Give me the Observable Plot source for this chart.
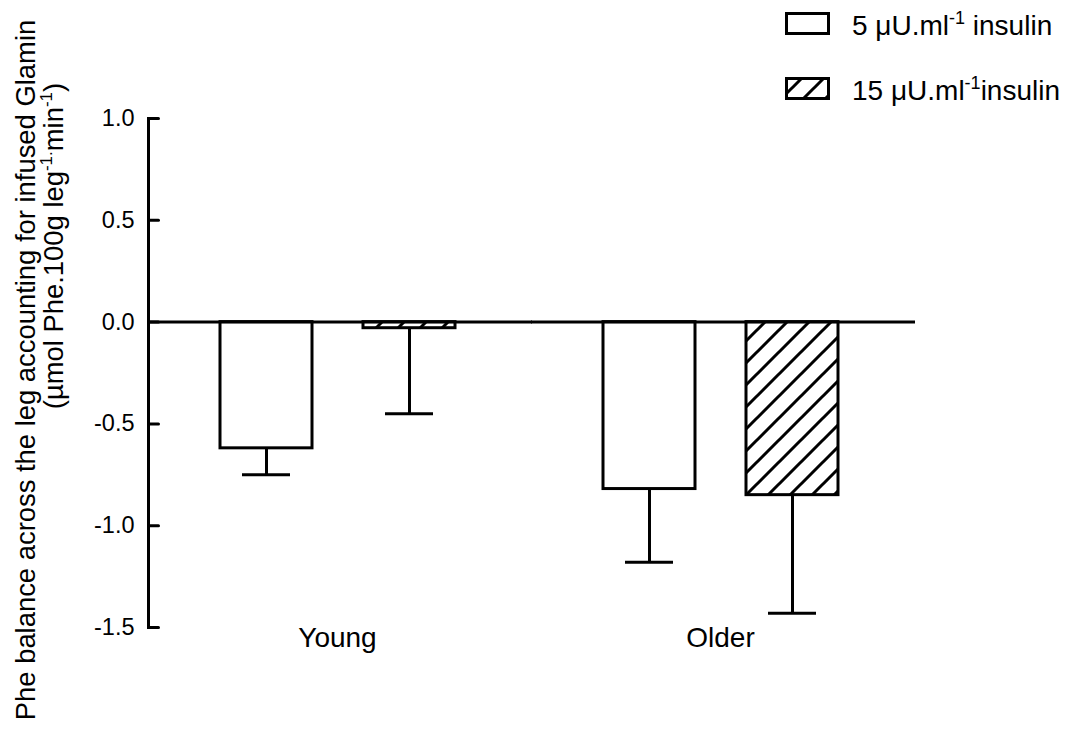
<!DOCTYPE html>
<html>
<head>
<meta charset="utf-8">
<script src="https://cdn.jsdelivr.net/npm/d3@7"></script>
<script src="https://cdn.jsdelivr.net/npm/@observablehq/plot@0.6"></script>
<style>
  body { margin: 0; background: #fff; }
  svg { display: block; }
</style>
</head>
<body>
<div id="chart"></div>
<script>
// ---- data ----
const groups = ["Young", "Older"];
const doses = ["5", "15"];               // µU/ml insulin
const mean5  = [-0.62, -0.82];           // per group
const mean15 = [-0.03, -0.85];
const sem5   = [0.13, 0.36];
const sem15  = [0.42, 0.58];
const yTicks = [-1.5, -1.0, -0.5, 0.0, 0.5, 1.0];
const yDomain = [-1.5, 1.0];

const data = groups.flatMap((g, i) => [
  {group: g, dose: doses[0], mean: mean5[i],  sem: sem5[i]},
  {group: g, dose: doses[1], mean: mean15[i], sem: sem15[i]}
]);

const FONT = "'Liberation Sans', Arial, Helvetica, sans-serif";
const tickShape = {draw(context, l) { context.moveTo(0, 0); context.lineTo(0, -l); }};

const plot = Plot.plot({
  width: 1070,
  height: 731,
  marginLeft: 148,
  marginRight: 155,
  marginTop: 118,
  marginBottom: 104,
  style: {fontFamily: FONT, background: "white", color: "black"},
  fx: {domain: groups, paddingInner: 0.013, paddingOuter: 0.0078, align: 0, label: null},
  x: {domain: doses, paddingInner: 0.359, paddingOuter: 0.4967, align: 0.5, axis: null},
  y: {domain: yDomain, label: null},
  marks: [
    Plot.barY(data.filter(d => d.dose === "5"), {
      fx: "group", x: "dose", y1: 0, y2: "mean", inset: 0,
      fill: "white", stroke: "black", strokeWidth: 3
    }),
    Plot.barY(data.filter(d => d.dose === "15"), {
      fx: "group", x: "dose", y1: 0, y2: "mean", inset: 0,
      fill: "url(#hatch)", stroke: "black", strokeWidth: 3
    }),
    Plot.ruleX(data, {
      fx: "group", x: "dose", y1: "mean", y2: d => d.mean - d.sem,
      stroke: "black", strokeWidth: 3
    }),
    Plot.tickY(data, {
      fx: "group", x: "dose", y: d => d.mean - d.sem, inset: 22,
      stroke: "black", strokeWidth: 3
    }),
    Plot.ruleY([0], {insetRight: -6, stroke: "black", strokeWidth: 3}),
    Plot.frame({anchor: "left", facetAnchor: "left", stroke: "black", strokeWidth: 3}),
    Plot.vector(yTicks, {
      y: d => d, frameAnchor: "left", facetAnchor: "left",
      rotate: 90, length: 10, anchor: "start", shape: tickShape,
      stroke: "black", strokeWidth: 3
    }),
    Plot.axisY({
      ticks: yTicks, tickSize: 0, tickPadding: 14, fontSize: 23.5,
      tickFormat: d => d.toFixed(1), label: null
    }),
    Plot.axisFx({anchor: "bottom", tickSize: 0, tickPadding: 0, fontSize: 28, label: null})
  ]
});

document.getElementById("chart").appendChild(plot);

// ---- hatch pattern, y title and legend ----
const svg = d3.select(plot);
const defs = svg.insert("defs", ":first-child");
const pat = defs.append("pattern")
  .attr("id", "hatch")
  .attr("patternUnits", "userSpaceOnUse")
  .attr("width", 22).attr("height", 22);
pat.append("path")
  .attr("d", "M-5.5,5.5L5.5,-5.5M0,22L22,0M16.5,27.5L27.5,16.5")
  .attr("stroke", "black").attr("stroke-width", 3).attr("fill", "none");

const title = svg.append("g").attr("font-family", FONT).attr("fill", "black");
title.append("text")
  .attr("transform", "translate(35,370) rotate(-90)")
  .attr("text-anchor", "middle").attr("font-size", 27.4)
  .text("Phe balance across the leg accounting for infused Glamin");
const t2 = title.append("text")
  .attr("transform", "translate(63,246) rotate(-90)")
  .attr("text-anchor", "middle").attr("font-size", 27.4);
t2.append("tspan").text("(µmol Phe.100g leg");
t2.append("tspan").attr("font-size", 17).attr("dy", -11).text("-1.");
t2.append("tspan").attr("dy", 11).text("min");
t2.append("tspan").attr("font-size", 17).attr("dy", -11).text("-1");
t2.append("tspan").attr("dy", 11).text(")");

const legendItems = [
  {fill: "white", y: 13.5, parts: ["5 μU.ml", "-1", " insulin"], base: 35},
  {fill: "url(#hatch)", y: 78.5, parts: ["15 μU.ml", "-1", "insulin"], base: 100}
];
const lg = svg.append("g").attr("font-family", FONT).attr("fill", "black")
  .attr("text-anchor", "start");
legendItems.forEach(it => {
  lg.append("rect")
    .attr("x", 786.5).attr("y", it.y).attr("width", 42).attr("height", 20)
    .attr("fill", it.fill).attr("stroke", "black").attr("stroke-width", 3);
  const t = lg.append("text").attr("x", 852).attr("y", it.base)
    .attr("font-size", 28).attr("text-anchor", "start");
  t.append("tspan").text(it.parts[0]);
  t.append("tspan").attr("font-size", 18).attr("dy", -11).text(it.parts[1]);
  t.append("tspan").attr("dy", 11).text(it.parts[2]);
});
</script>
</body>
</html>
